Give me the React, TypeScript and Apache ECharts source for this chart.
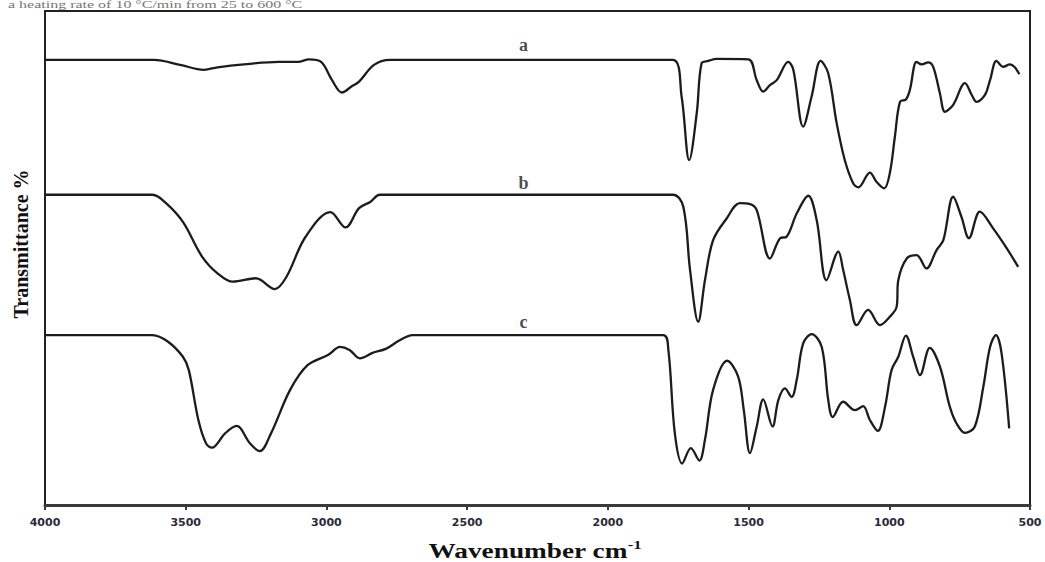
import React, { useEffect, useRef } from "react";
import * as echarts from "echarts";

// Curve a (wavenumber cm-1, transmittance a.u.)
const waveA = [4000, 3613, 3520, 3435, 3387, 3293, 3169, 3101, 3062, 3019, 2980, 2945, 2911, 2884, 2831, 2774,
  1769, 1738, 1711, 1684, 1667, 1643, 1613, 1501, 1471, 1448, 1424, 1400, 1359, 1341, 1306, 1276, 1244, 1217,
  1187, 1158, 1128, 1110, 1069, 1045, 1018, 998, 980, 962, 941, 927, 903, 885, 862, 844, 820, 802, 773, 731,
  707, 690, 660, 642, 619, 595, 571, 554, 538];
const transA = [90.1, 90.1, 89.1, 88.1, 88.6, 89.2, 89.7, 89.7, 90.2, 89.7, 86.0, 83.5, 84.7, 85.7, 89.1, 90.1,
  90.1, 82.7, 69.8, 79.4, 89.4, 89.9, 90.3, 90.2, 86.0, 83.7, 85.0, 86.0, 89.7, 88.1, 76.6, 82.7, 89.9, 87.4,
  77.3, 69.8, 65.1, 64.3, 67.3, 65.4, 64.1, 67.2, 74.6, 81.6, 82.1, 84.0, 89.7, 89.2, 89.6, 88.7, 83.3, 79.6, 81.0, 85.4,
  83.0, 81.6, 83.0, 86.0, 89.9, 88.7, 89.2, 88.6, 87.2];

// Curve b
const waveB = [4000, 3618, 3570, 3510, 3442, 3387, 3332, 3251, 3183, 3142, 3074, 2986, 2932, 2884, 2843, 2810,
  1769, 1732, 1708, 1679, 1655, 1626, 1578, 1531, 1495, 1471, 1424, 1388, 1365, 1329, 1288, 1258, 1223, 1181,
  1164, 1140, 1116, 1075, 1033, 998, 974, 968, 938, 903, 868, 832, 808, 773, 744, 717, 678, 631, 583, 542];
const transB = [62.8, 62.8, 61.1, 57.3, 50.3, 46.9, 45.2, 45.9, 43.7, 46.2, 54.3, 59.3, 56.2, 60.1, 61.4, 62.8,
  62.8, 60.4, 47.6, 37.1, 45.5, 53.6, 58.0, 61.1, 60.9, 59.7, 49.9, 54.0, 54.3, 59.0, 62.6, 57.7, 45.5, 51.3,
  47.6, 41.5, 36.4, 39.5, 36.4, 38.1, 40.1, 45.5, 49.9, 50.6, 47.9, 51.6, 53.6, 62.4, 58.4, 54.0, 59.4, 56.0, 52.0, 48.2];

// Curve c
const waveC = [4000, 3618, 3564, 3510, 3489, 3455, 3428, 3407, 3360, 3319, 3272, 3237, 3197, 3129, 3067, 2993,
  2952, 2918, 2881, 2836, 2789, 2741, 2694, 1803, 1785, 1762, 1736, 1705, 1675, 1655, 1626, 1576, 1537, 1517,
  1495, 1471, 1448, 1415, 1394, 1371, 1347, 1329, 1306, 1276, 1240, 1217, 1201, 1164, 1122, 1093, 1069, 1041,
  1015, 992, 968, 941, 915, 891, 856, 820, 785, 761, 731, 696, 666, 642, 621, 601, 574];
const transC = [34.4, 34.4, 33.1, 30.0, 27.3, 17.2, 12.5, 11.6, 14.5, 16.0, 12.5, 10.9, 14.5, 23.3, 28.3, 30.4,
  32.0, 31.4, 29.7, 30.8, 31.6, 33.3, 34.4, 34.4, 31.4, 14.5, 8.4, 11.5, 9.0, 13.2, 23.3, 29.2, 26.0, 19.2,
  10.5, 15.9, 21.4, 15.9, 21.3, 23.6, 21.9, 25.3, 32.7, 34.6, 32.0, 21.3, 17.8, 20.9, 19.2, 20.0, 17.2, 15.0,
  19.9, 27.3, 30.0, 34.3, 30.0, 26.3, 31.8, 28.0, 19.9, 16.5, 14.6, 15.9, 23.9, 32.0, 34.4, 30.7, 15.5];

const curveNames = ["a", "b", "c"];
const labelWave = 2300;
const labelLevels = [93.1, 65.2, 37.1];

const topNote = "a heating rate of 10 °C/min from 25 to 600 °C";

export default function App() {
  const ref = useRef<HTMLDivElement>(null);
  useEffect(() => {
    document.body.style.margin = "0";
    const chart = echarts.init(ref.current!, null, { renderer: "svg" });
    const zip = (xs: number[], ys: number[]) => xs.map((x, i) => [x, ys[i]]);
    const lineStyle = { color: "#1c1c1c", width: 2.3 };
    const serif = '"Liberation Serif", "Times New Roman", serif';
    const mkLine = (name: string, xs: number[], ys: number[]) => ({
      name,
      type: "line",
      data: zip(xs, ys),
      smooth: 0.35,
      showSymbol: false,
      symbol: "none",
      lineStyle,
      z: 3,
    });
    chart.setOption({
      animation: false,
      backgroundColor: "#ffffff",
      grid: {
        left: 45,
        right: 15,
        top: 11,
        bottom: 57,
        show: true,
        borderColor: "#222",
        borderWidth: 2,
      },
      xAxis: {
        type: "value",
        min: 500,
        max: 4000,
        interval: 500,
        inverse: true,
        axisLine: { show: true, lineStyle: { color: "#3a3a3a", width: 3 } },
        axisTick: { show: true, length: 5, lineStyle: { color: "#3a3a3a", width: 2 } },
        axisLabel: {
          color: "#2a2a3a",
          fontFamily: "DejaVu Sans",
          fontWeight: "bold",
          fontSize: 11,
          margin: 12,
          formatter: (v: number) => String(v),
        },
        splitLine: { show: false },
      },
      yAxis: { type: "value", min: 0, max: 100, show: false, splitLine: { show: false } },
      series: [
        mkLine("a", waveA, transA),
        mkLine("b", waveB, transB),
        mkLine("c", waveC, transC),
        {
          type: "scatter",
          symbolSize: 0,
          data: labelLevels.map((v, i) => ({ value: [labelWave, v], name: curveNames[i] })),
          label: {
            show: true,
            position: "inside",
            formatter: (p: any) => p.name,
            fontFamily: serif,
            fontWeight: "bold",
            fontSize: 18,
            color: "#1a1a2a",
          },
          z: 4,
        },
      ],
      graphic: [
        {
          type: "text",
          x: 21,
          y: 244,
          rotation: Math.PI / 2,
          style: {
            text: "Transmittance %",
            font: `bold 20px ${serif}`,
            fill: "#111",
            align: "center",
            verticalAlign: "middle",
          },
        },
        {
          type: "text",
          x: 535,
          y: 551,
          scaleX: 1.3,
          style: {
            text: "{m|Wavenumber cm}{s|-1}",
            align: "center",
            verticalAlign: "middle",
            rich: {
              m: { font: `bold 21px ${serif}`, fill: "#111", lineHeight: 24 },
              s: { font: `bold 13px ${serif}`, fill: "#111", lineHeight: 24, padding: [0, 0, 12, 0] },
            },
          },
        },
        {
          type: "text",
          x: 8,
          y: 0,
          scaleX: 1.6,
          style: {
            text: topNote,
            font: `10px ${serif}`,
            fill: "#777",
            align: "left",
            verticalAlign: "top",
          },
        },
      ],
    });
    return () => chart.dispose();
  }, []);
  return <div ref={ref} style={{ width: 1045, height: 562 }} />;
}
